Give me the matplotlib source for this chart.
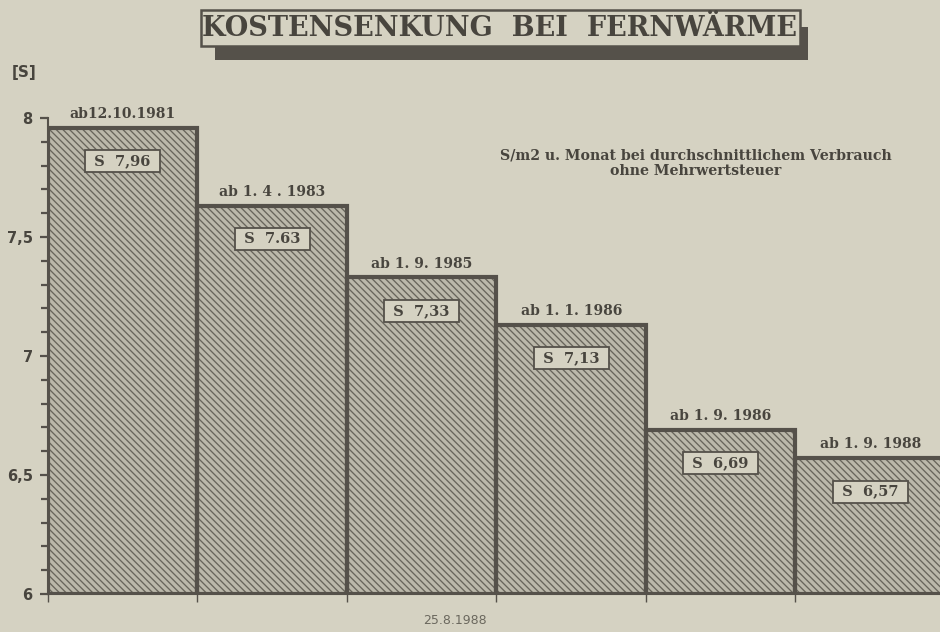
import matplotlib
matplotlib.use("Agg")
import matplotlib.pyplot as plt
from matplotlib.patches import Rectangle

# ---- data ----
dates = ["ab12.10.1981", "ab 1. 4 . 1983", "ab 1. 9. 1985", "ab 1. 1. 1986", "ab 1. 9. 1986", "ab 1. 9. 1988"]
values = [7.96, 7.63, 7.33, 7.13, 6.69, 6.57]
value_labels = ["S  7,96", "S  7.63", "S  7,33", "S  7,13", "S  6,69", "S  6,57"]
ytick_vals = [6, 6.5, 7, 7.5, 8]
ytick_labels = ["6", "6,5", "7", "7,5", "8"]
title = "KOSTENSENKUNG  BEI  FERNWÄRME"
subtitle = "S/m2 u. Monat bei durchschnittlichem Verbrauch\nohne Mehrwertsteuer"
unit_label = "[S]"
footer = "25.8.1988"

paper = "#d5d2c2"
dark = "#55514a"
text_c = "#48453e"
serif = ["DejaVu Serif"]
sans = ["DejaVu Sans"]

plt.rcParams["hatch.linewidth"] = 0.95

fig = plt.figure(figsize=(9.4, 6.32), dpi=100)
fig.patch.set_facecolor(paper)

ax = fig.add_axes([48/940, 1-594/632, 897/940, 476/632])
ax.set_facecolor(paper)
ax.patch.set_alpha(0)

x = [i + 0.5 for i in range(len(values))]
base = 6
heights = [v - base for v in values]
# hatched fill
ax.bar(x, heights, width=1.0, bottom=base, color="#bbb8aa", edgecolor="#68655b",
       hatch="\\\\\\\\\\", linewidth=0, zorder=2)
# thick outlines
ax.bar(x, heights, width=1.0, bottom=base, fill=False, edgecolor=dark,
       linewidth=3.0, zorder=3)

ax.set_xlim(0, 6)
ax.set_ylim(6, 8)
for s in ["top", "right"]:
    ax.spines[s].set_visible(False)
ax.spines["left"].set_color(dark)
ax.spines["left"].set_linewidth(1.5)
ax.spines["bottom"].set_color(dark)
ax.spines["bottom"].set_linewidth(1.5)

ax.set_yticks(ytick_vals)
ax.set_yticklabels(ytick_labels, fontsize=10.5, fontweight="bold", color=text_c, family=sans)
ax.set_yticks([6 + 0.1 * i for i in range(21)], minor=True)
ax.tick_params(axis="y", which="major", length=6, width=1.6, color=dark, pad=5)
ax.tick_params(axis="y", which="minor", length=5, width=1.6, color=dark)
ax.set_xticks(list(range(6)))
ax.set_xticklabels([])
ax.tick_params(axis="x", length=6, width=1.0, color=dark)

for xi, v, d, vl in zip(x, values, dates, value_labels):
    ax.annotate(d, (xi, v), xytext=(0, 5), textcoords="offset points",
                ha="center", va="bottom", fontsize=10, fontweight="bold",
                color=text_c, family=serif, zorder=5)
    ax.annotate(f" {vl} ", (xi, v), xytext=(0, -24), textcoords="offset points",
                ha="center", va="center", fontsize=10.5, fontweight="bold",
                color=text_c, family=serif, zorder=5,
                bbox=dict(boxstyle="square,pad=0.28", facecolor=paper,
                          edgecolor=dark, linewidth=1.3))

# title box with shadow
fig.patches.append(Rectangle((215/940, 1-60/632), 593/940, 33/632,
                             transform=fig.transFigure, facecolor=dark,
                             edgecolor="none", zorder=1))
fig.patches.append(Rectangle((201/940, 1-46/632), 599/940, 36/632,
                             transform=fig.transFigure, facecolor=paper,
                             edgecolor=dark, linewidth=1.8, zorder=2))
fig.text(500/940, 1-29/632, title, ha="center", va="center", fontsize=19.5,
         fontweight="bold", color=text_c, family=serif, zorder=3)

fig.text(696/940, 1-163/632, subtitle, ha="center", va="center", fontsize=10.2,
         fontweight="bold", color=text_c, family=serif, linespacing=1.1)
fig.text(24/940, 1-73/632, unit_label, ha="center", va="center", fontsize=11,
         fontweight="bold", color=text_c, family=sans)
fig.text(455/940, 1-620/632, footer, ha="center", va="center", fontsize=9,
         color="#6b685e", family=sans)

fig.savefig("out.png", dpi=100, facecolor=paper)
